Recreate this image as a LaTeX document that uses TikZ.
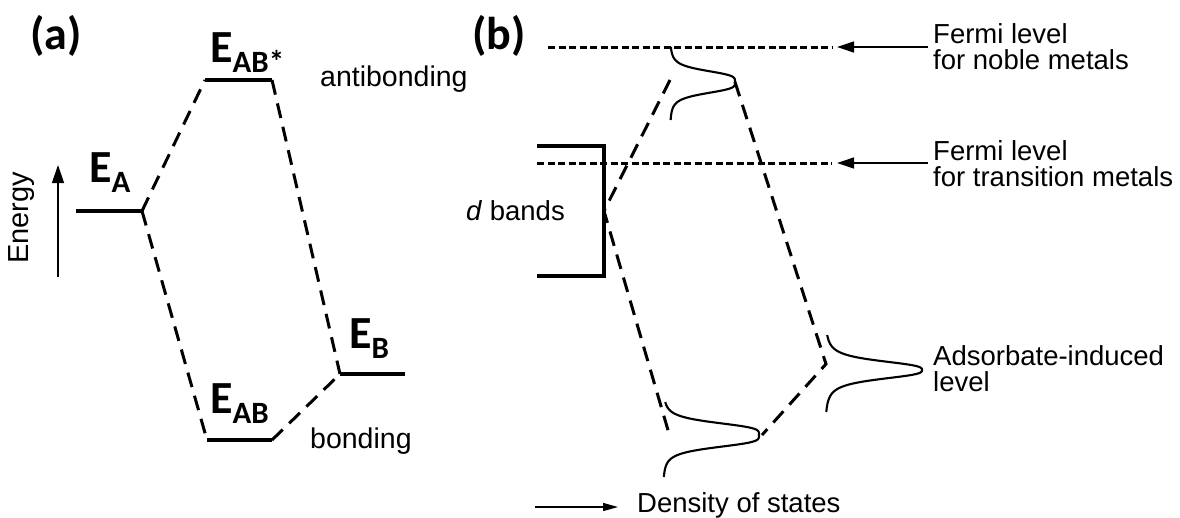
\documentclass[tikz,border=0pt]{standalone}
\usepackage{fontspec}
\setmainfont{Liberation Sans}
\newfontfamily\calfont{Carlito}
\usetikzlibrary{arrows.meta}
\newcommand{\esub}[1]{\raisebox{-10pt}{\fontsize{31}{31}\selectfont #1}}
\tikzset{
  lvl/.style={line width=3.3pt},
  cnx/.style={line width=3pt, dash pattern=on 15pt off 9pt},
  fermi/.style={line width=3pt, dash pattern=on 7pt off 3.5pt},
  dos/.style={line width=2.1pt},
  ptr/.style={line width=1.3pt, -{Triangle[length=17pt,width=11pt]}},
  elbl/.style={font=\calfont\bfseries\fontsize{46}{46}\selectfont, inner sep=0pt, anchor=base west},
  panel/.style={font=\calfont\bfseries\fontsize{46}{46}\selectfont, inner sep=0pt},
  txt/.style={font=\fontsize{27.5}{26.5}\selectfont, inner sep=0pt, align=left},
}
\begin{document}
\begin{tikzpicture}[x=1pt, y=-1pt]
  \useasboundingbox (0,0) rectangle (1180,517);
  % (a) levels of A, B and the AB molecule
  \node[panel] (pa) at (56,36) {(a)};
  \coordinate (en0) at (58,277);
  \coordinate (en1) at (58,165);
  \draw[ptr, -{Triangle[length=18pt,width=12pt]}] (en0) -- (en1);
  \node[txt, font=\fontsize{29}{29}\selectfont, rotate=90] (energy) at (22,218) {Energy};
  \coordinate (a1) at (76,211);  \coordinate (a2) at (142,211);
  \coordinate (s1) at (205,80);  \coordinate (s2) at (272,80);
  \coordinate (g1) at (207,440); \coordinate (g2) at (272,440);
  \coordinate (b1) at (340,374); \coordinate (b2) at (405,374);
  \draw[lvl] (a1) -- (a2);
  \draw[lvl] (s1) -- (s2);
  \draw[lvl] (g1) -- (g2);
  \draw[lvl] (b1) -- (b2);
  \draw[cnx] (a2) -- (s1);
  \draw[cnx] (s2) -- (b1);
  \draw[cnx] (a2) -- (g1);
  \draw[cnx] (g2) -- (b1);
  \node[elbl] (lea) at (89,182) {E\esub{A}};
  \node[elbl] (leas) at (210,62) {E\esub{AB*}};
  \node[elbl] (leab) at (210,413) {E\esub{AB}};
  \node[elbl] (leb) at (349,348) {E\esub{B}};
  \node[txt, font=\fontsize{28.5}{28}\selectfont, anchor=base west] (anti) at (320,86) {antibonding};
  \node[txt, font=\fontsize{28.5}{28}\selectfont, anchor=base west] (bond) at (310,448) {bonding};

  % (b) d band and adsorbate level
  \node[panel] (pb) at (499,36) {(b)};
  \coordinate (fn0) at (548,47);  \coordinate (fn1) at (832,47);
  \coordinate (ft0) at (537,163); \coordinate (ft1) at (832,163);
  \draw[fermi] (fn0) -- (fn1);
  \draw[fermi] (ft0) -- (ft1);
  \coordinate (nl) at (928,47);  \coordinate (nt) at (837,47);
  \coordinate (tl) at (928,163); \coordinate (tt) at (837,163);
  \draw[ptr] (nl) -- (nt);
  \draw[ptr] (tl) -- (tt);
  \node[txt, anchor=north west] (noble) at (933,23) {Fermi level\\for noble metals};
  \node[txt, anchor=north west] (trans) at (933,140) {Fermi level\\for transition metals};
  \coordinate (d1) at (537,146); \coordinate (d2) at (604,146);
  \coordinate (d3) at (604,276); \coordinate (d4) at (537,276);
  \coordinate (dm) at (604,211);
  \draw[lvl] (d1) -- (d2) -- (d3) -- (d4);
  \node[txt, anchor=base west] (dband) at (466,220) {\textit{d} bands};
  \coordinate (ltop) at (670,80);  \coordinate (lbot) at (670,437);
  \coordinate (rtop) at (735,82);  \coordinate (rmid) at (826,364);
  \coordinate (rbot) at (762,435);
  \draw[cnx] (ltop) -- (dm) -- (lbot);
  \draw[cnx] (rtop) -- (rmid) -- (rbot);
  % density of states peaks
  \draw[dos] plot[domain=-35:38, samples=90]
    ({670+65/(1+((\x/12)*(\x/12))*((\x/12)*(\x/12)))}, {82+\x});
  \draw[dos] plot[domain=-33:42, samples=90]
    ({663+96/(1+((\x/13)*(\x/13))*((\x/13)*(\x/13)))}, {435+\x});
  \draw[dos] plot[domain=-35:42, samples=90]
    ({825+97/(1+(abs(\x)/10)*(abs(\x)/10)*(abs(\x)/10))}, {370+\x});
  \node[txt, anchor=north west] (ads) at (933,345) {Adsorbate-induced\\level};
  \coordinate (ds0) at (535,507); \coordinate (ds1) at (618,507);
  \draw[ptr, -{Triangle[length=15pt,width=8pt]}] (ds0) -- (ds1);
  \node[txt, anchor=base west] (dos) at (637,512) {Density of states};
\end{tikzpicture}
\end{document}
